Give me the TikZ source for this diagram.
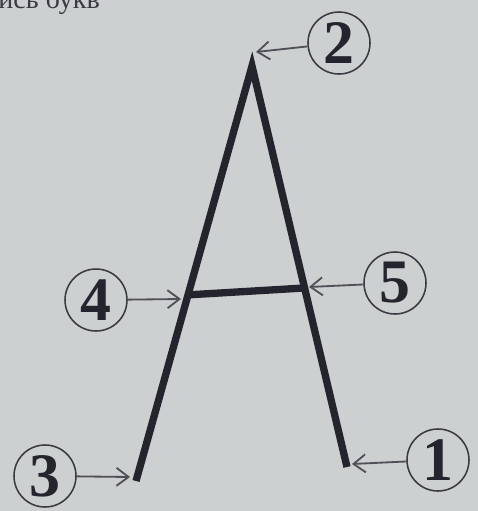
\documentclass[tikz,border=0pt]{standalone}
\usepackage{fontspec}
\usetikzlibrary{arrows.meta}
\newfontfamily\cyrfont{Liberation Serif}
\definecolor{paper}{RGB}{204,208,208}
\definecolor{ink}{RGB}{36,36,46}

\begin{document}
\begin{tikzpicture}[x=0.25mm,y=-0.25mm,
  num/.style={circle,draw=ink!90,line width=1.1pt,minimum size=15.5mm,inner sep=0pt,text=ink,font=\cyrfont\bfseries\fontsize{44}{44}\selectfont},
  ptr/.style={draw=ink!80,line width=1.3pt,-{Straight Barb[length=3mm,width=4.5mm]}},
  stroke/.style={draw=ink,line width=5.2pt,line join=miter}]
\fill[paper] (0,0) rectangle (478,511);
\useasboundingbox (0,0) rectangle (478,511);
\begin{scope}
\clip (0,0) rectangle (478,511);
\node[anchor=base west,inner sep=0pt,text=ink!90,font=\cyrfont\fontsize{20}{20}\selectfont] (head) at (-2,8) {ись букв};
\end{scope}

% letter
\coordinate (apex) at (252,66);
\coordinate (lfoot) at (136,481);
\coordinate (rfoot) at (347,467);
\coordinate (crossL) at (186,295);
\coordinate (crossR) at (304,288);
\draw[stroke] (lfoot) -- (apex) -- (rfoot);
\draw[stroke] (crossL) -- (crossR);

% numbers
\node[num] (n1) at (438,460) {1};
\node[num] (n2) at (339,43) {2};
\node[num] (n3) at (45,476) {3};
\node[num] (n4) at (96,300) {4};
\node[num] (n5) at (395,283) {5};

\coordinate (t1) at (352,464);
\coordinate (t2) at (256,52);
\coordinate (t3) at (130,477);
\coordinate (t4) at (181,299);
\coordinate (t5) at (309,287);
\foreach \i in {1,...,5} {\draw[ptr] (n\i) -- (t\i);}
\end{tikzpicture}
\end{document}
